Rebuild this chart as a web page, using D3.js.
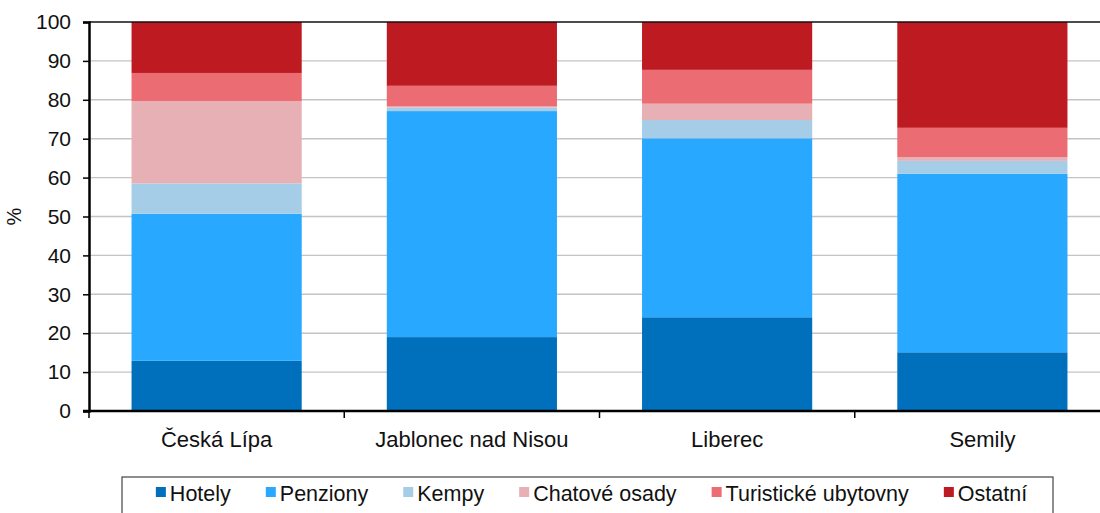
<!DOCTYPE html>
<html>
<head>
<meta charset="utf-8">
<script src="https://cdn.jsdelivr.net/npm/d3@7"></script>
<style>
  body { margin: 0; background: #fff; }
  text { font-family: "Liberation Sans", Arial, sans-serif; fill: #111; }
</style>
</head>
<body>
<svg id="chart" width="1100" height="513"></svg>
<script>
// data
var categories = ["Česká Lípa", "Jablonec nad Nisou", "Liberec", "Semily"];
var seriesNames = ["Hotely", "Penziony", "Kempy", "Chatové osady", "Turistické ubytovny", "Ostatní"];
var hotely     = [12.9, 19.0, 24.1, 15.1];
var penziony   = [37.8, 58.1, 46.0, 45.9];
var kempy      = [7.8, 0.9, 4.7, 3.3];
var chatove    = [21.2, 0.3, 4.2, 1.0];
var turisticke = [7.2, 5.3, 8.7, 7.5];
var ostatni    = [13.1, 16.4, 12.3, 27.2];
var yTicks = [0, 10, 20, 30, 40, 50, 60, 70, 80, 90, 100];
var colors = ["#0070bd", "#29a8ff", "#a6cde8", "#e6b0b4", "#eb6c73", "#be1a21"];

var values = [hotely, penziony, kempy, chatove, turisticke, ostatni];

// table pour d3.stack
var rows = categories.map(function(c, i){
  var r = { cat: c };
  seriesNames.forEach(function(s, j){ r[s] = values[j][i]; });
  return r;
});
var stacked = d3.stack().keys(seriesNames)(rows);

var svg = d3.select("#chart");
var plotLeft = 89, plotRight = 1110, plotTop = 22, plotBottom = 411;

var x = d3.scaleBand().domain(categories).range([plotLeft, plotRight]).padding(0);
var y = d3.scaleLinear().domain([0, 100]).range([plotBottom, plotTop]);
var bw = x.bandwidth();

// grille
svg.append("g").selectAll("line")
  .data(yTicks.filter(function(d){ return d > 0 && d < 100; }))
  .enter().append("line")
  .attr("x1", plotLeft).attr("x2", plotRight)
  .attr("y1", function(d){ return y(d); })
  .attr("y2", function(d){ return y(d); })
  .attr("stroke", "#c4c4c4")
  .attr("stroke-width", 1.4);

// barres
svg.append("g").selectAll("g")
  .data(stacked).enter()
  .append("g")
  .attr("fill", function(d, i){ return colors[i]; })
  .selectAll("rect")
  .data(function(d){ return d; }).enter()
  .append("rect")
  .attr("x", function(d){ return x(d.data.cat) + bw / 6; })
  .attr("width", bw * 2 / 3)
  .attr("y", function(d){ return y(d[1]); })
  .attr("height", function(d){ return y(d[0]) - y(d[1]); });

// ligne du haut
svg.append("line")
  .attr("x1", plotLeft).attr("x2", plotRight)
  .attr("y1", y(100)).attr("y2", y(100))
  .attr("stroke", "#111").attr("stroke-width", 1.5);

// axe Y
var yAxis = svg.append("g")
  .attr("transform", "translate(" + plotLeft + ",0)")
  .call(d3.axisLeft(y).tickValues(yTicks).tickSize(6).tickPadding(12));
yAxis.select(".domain").attr("stroke", "#000").attr("stroke-width", 2.5);
yAxis.selectAll(".tick line").attr("stroke", "#000").attr("stroke-width", 1.5);
yAxis.selectAll(".tick text")
  .style("font-family", "Liberation Sans, Arial, sans-serif")
  .style("font-size", "21px").attr("fill", "#111");

// axe X
var xAxis = svg.append("g")
  .attr("transform", "translate(0," + plotBottom + ")")
  .call(d3.axisBottom(x).tickSize(0).tickPadding(20));
xAxis.select(".domain").remove();
xAxis.selectAll(".tick text")
  .style("font-family", "Liberation Sans, Arial, sans-serif")
  .style("font-size", "22px").attr("fill", "#111");
svg.append("line")
  .attr("x1", plotLeft - 6).attr("x2", plotRight)
  .attr("y1", plotBottom).attr("y2", plotBottom)
  .attr("stroke", "#000").attr("stroke-width", 2.5);
var bounds = categories.map(function(c){ return x(c); }).concat([plotRight]);
svg.append("g").selectAll("line")
  .data(bounds).enter().append("line")
  .attr("x1", function(d){ return d; }).attr("x2", function(d){ return d; })
  .attr("y1", plotBottom).attr("y2", plotBottom + 7)
  .attr("stroke", "#000").attr("stroke-width", 1.5);

// titre axe Y
svg.append("text")
  .attr("transform", "translate(21," + y(50) + ") rotate(-90)")
  .attr("text-anchor", "middle")
  .style("font-size", "20px")
  .text("%");

// légende
var legX0 = 122, legX1 = 1053, legY = 477;
svg.append("rect")
  .attr("x", legX0).attr("y", legY)
  .attr("width", legX1 - legX0).attr("height", 60)
  .attr("fill", "none").attr("stroke", "#444").attr("stroke-width", 1.2);

var leg = svg.append("g");
var items = leg.selectAll("g").data(seriesNames).enter().append("g");
items.append("rect")
  .attr("width", 10).attr("height", 10)
  .attr("y", -8)
  .attr("fill", function(d, i){ return colors[i]; });
items.append("text")
  .attr("x", 14).attr("y", 0)
  .attr("dy", "0.3em")
  .style("font-size", "21.5px")
  .text(function(d){ return d; });

var gap = 35, widths = [], total = 0;
items.each(function(){
  var w = 14 + d3.select(this).select("text").node().getComputedTextLength();
  widths.push(w); total += w;
});
total += gap * (seriesNames.length - 1);
var cx = legX0 + ((legX1 - legX0) - total) / 2 + 4;
items.attr("transform", function(d, i){
  var t = "translate(" + cx + "," + (legY + 18) + ")";
  cx += widths[i] + gap;
  return t;
});
</script>
</body>
</html>
